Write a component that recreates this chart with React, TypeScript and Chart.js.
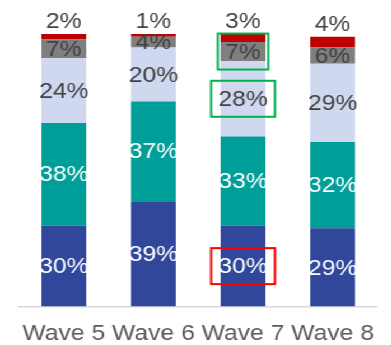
import React, { useEffect, useRef } from "react";
import { Chart, registerables } from "chart.js";

Chart.register(...registerables);

// ---- data ----
const waves = ["Wave 5", "Wave 6", "Wave 7", "Wave 8"];
const seriesA = [30, 39, 30, 29]; // dark blue (bottom)
const seriesB = [38, 37, 33, 32]; // teal
const seriesC = [24, 20, 28, 29]; // lavender
const seriesD = [7, 4, 7, 6]; // gray
const seriesE = [2, 1, 3, 4]; // red (top)
const seriesNames = ["A", "B", "C", "D", "E"];

// highlighted labels: [datasetIndex, waveIndex]
const greenHighlights = [
  [3, 2],
  [2, 2],
];
const redHighlights = [[0, 2]];

const colors = ["#30479C", "#009E99", "#D0D8F0", "#7F7F7F", "#C00000"];
const labelColors = ["#FFFFFF", "#FFFFFF", "#404040", "#404040", "#404040"];

const STRETCH = 1.12;
const W = 349;
const H = 345;
const FONT = '"Liberation Sans", Arial, sans-serif';

const labelPlugin = {
  id: "segLabels",
  afterDatasetsDraw(chart: any) {
    const ctx = chart.ctx;
    ctx.save();
    ctx.font = `22px ${FONT}`;
    ctx.textAlign = "center";
    ctx.textBaseline = "middle";
    const centers: Record<string, { x: number; y: number; w: number }> = {};
    chart.data.datasets.forEach((ds: any, di: number) => {
      const meta = chart.getDatasetMeta(di);
      meta.data.forEach((bar: any, i: number) => {
        const p = bar.getProps(["x", "y", "base", "width"], true);
        const top = di === chart.data.datasets.length - 1;
        const cy = top ? p.y - 13 : (p.y + p.base) / 2;
        centers[`${di}-${i}`] = { x: p.x, y: cy, w: p.width };
        ctx.fillStyle = labelColors[di];
        ctx.fillText(`${ds.data[i]}%`, p.x, cy + 1);
      });
    });
    const drawBox = (di: number, i: number, color: string, halfW: number) => {
      const c = centers[`${di}-${i}`];
      if (!c) return;
      ctx.strokeStyle = color;
      ctx.lineWidth = 2;
      ctx.strokeRect(c.x - halfW, c.y - 18, halfW * 2, 36);
    };
    greenHighlights.forEach(([di, i]) => {
      const c = centers[`${di}-${i}`];
      const hw = di === 3 ? c.w / 2 + 2.5 : c.w / 2 + 8.5;
      drawBox(di, i, "#00B050", hw);
    });
    redHighlights.forEach(([di, i]) => {
      const c = centers[`${di}-${i}`];
      drawBox(di, i, "#FF0000", c.w / 2 + 8.5);
    });
    ctx.restore();
  },
};

export default function App() {
  const ref = useRef<HTMLCanvasElement>(null);
  useEffect(() => {
    if (!ref.current) return;
    const all = [seriesA, seriesB, seriesC, seriesD, seriesE];
    const chart = new Chart(ref.current, {
      type: "bar",
      data: {
        labels: waves,
        datasets: all.map((d, i) => ({
          label: seriesNames[i],
          data: d,
          backgroundColor: colors[i],
          borderWidth: 0,
          barPercentage: 0.5,
          categoryPercentage: 1,
        })),
      },
      options: {
        responsive: false,
        animation: false,
        layout: { padding: { left: 17, right: 9, top: 34, bottom: -16 } },
        plugins: {
          legend: { display: false },
          tooltip: { enabled: false },
        },
        scales: {
          x: {
            stacked: true,
            grid: { display: false, drawTicks: false },
            border: { display: true, color: "#D9D9D9", width: 1.5 },
            ticks: {
              color: "#595959",
              font: { family: FONT, size: 22 },
              padding: 14,
            },
          },
          y: {
            stacked: true,
            display: false,
            min: 0,
            max: 101,
          },
        },
      },
      plugins: [labelPlugin],
    });
    return () => chart.destroy();
  }, []);
  return (
    <div
      style={{
        position: "fixed",
        left: 0,
        top: 0,
        width: W,
        height: H,
        transform: `scaleX(${STRETCH})`,
        transformOrigin: "0 0",
        background: "#fff",
      }}
    >
      <canvas ref={ref} width={W} height={H} />
    </div>
  );
}
